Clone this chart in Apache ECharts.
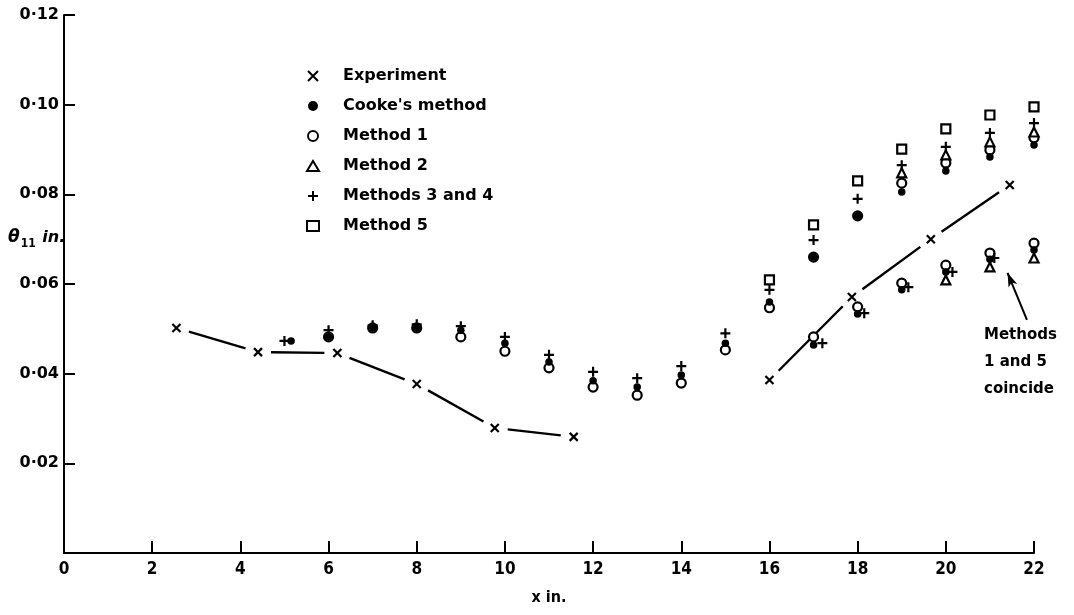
<!DOCTYPE html>
<html>
<head>
<meta charset="utf-8">
<script src="https://cdn.jsdelivr.net/npm/echarts@6/dist/echarts.min.js"></script>
<style>
  html, body { margin: 0; padding: 0; background: #fff; }
  #chart { width: 1074px; height: 615px; }
</style>
</head>
<body>
<div id="chart"></div>
<script>
// Momentum thickness θ11 (in.) against distance x (in.)
const xTicks = [0, 2, 4, 6, 8, 10, 12, 14, 16, 18, 20, 22];
const yTicks = [0.02, 0.04, 0.06, 0.08, 0.10, 0.12];

// Experiment, upstream and downstream runs
const experimentA = [[2.55, 0.0502], [4.4, 0.0448], [6.2, 0.0446], [8.0, 0.0377], [9.77, 0.0279], [11.56, 0.0259]];
const experimentB = [[16.0, 0.0386], [17.87, 0.0571], [19.66, 0.0700], [21.45, 0.0821]];

const cooke = [
  [5.15, 0.0473], [6, 0.0482], [7, 0.0502], [8, 0.0502], [9, 0.0497], [10, 0.0468], [11, 0.0426],
  [12, 0.0384], [13, 0.0370], [14, 0.0397], [15, 0.0468], [16, 0.0560], [17, 0.0660], [18, 0.0752],
  [19, 0.0805], [20, 0.0852], [21, 0.0883], [22, 0.0910],
  [17, 0.0464], [18, 0.0533], [19, 0.0587], [20, 0.0627], [21, 0.0655], [22, 0.0676]
];
const method1 = [
  [6, 0.0482], [7, 0.0502], [8, 0.0502], [9, 0.0482], [10, 0.0450], [11, 0.0413], [12, 0.0370],
  [13, 0.0352], [14, 0.0379], [15, 0.0453], [16, 0.0547], [17, 0.0660], [18, 0.0752], [19, 0.0825],
  [20, 0.0870], [21, 0.0899], [22, 0.0926],
  [17, 0.0482], [18, 0.0549], [19, 0.0602], [20, 0.0642], [21, 0.0669], [22, 0.0691]
];
const method2 = [
  [19, 0.0848], [20, 0.0888], [21, 0.0917], [22, 0.0939],
  [20, 0.0609], [21, 0.0638], [22, 0.0658]
];
const methods34 = [
  [5.0, 0.0473], [6, 0.0497], [7, 0.0508], [8, 0.0510], [9, 0.0506], [10, 0.0482], [11, 0.0442],
  [12, 0.0404], [13, 0.0390], [14, 0.0417], [15, 0.0490], [16, 0.0587], [17, 0.0698], [18, 0.0790],
  [19, 0.0865], [20, 0.0906], [21, 0.0937], [22, 0.0959],
  [17.2, 0.0468], [18.15, 0.0535], [19.15, 0.0593], [20.15, 0.0627], [21.1, 0.0658], [22.15, 0.0676]
];
const method5 = [
  [16, 0.0609], [17, 0.0732], [18, 0.0830], [19, 0.0901], [20, 0.0946], [21, 0.0977], [22, 0.0995]
];

const INK = '#000';
const FONT = 'DejaVu Sans';
const FONT_C = 'DejaVu Sans Condensed';

// consecutive point pairs of a run, used for the broken faired curve
function pairs(run) {
  const out = [];
  for (let i = 0; i < run.length - 1; i++) out.push([run[i][0], run[i][1], run[i + 1][0], run[i + 1][1]]);
  return out;
}
const curveSegments = pairs(experimentA).concat(pairs(experimentB));

const crossPath = 'path://M0,0L10,10M10,0L0,10';
const plusPath = 'path://M5,0L5,10M0,5L10,5';

function fmtTick(v) {
  return v.toFixed(2).replace('.', '·');
}

const chart = echarts.init(document.getElementById('chart'), null, { renderer: 'canvas' });

const openStyle = { color: '#fff', borderColor: INK, borderWidth: 2.2, opacity: 1 };
const strokeStyle = { color: 'rgba(0,0,0,0)', borderColor: INK, borderWidth: 2.2, opacity: 1 };

chart.setOption({
  animation: false,
  backgroundColor: '#fff',
  grid: { left: 64, right: 40, top: 15, bottom: 62 },
  xAxis: {
    type: 'value', min: 0, max: 22, interval: 2,
    name: 'x in.', nameLocation: 'middle', nameGap: 37,
    nameTextStyle: { color: INK, fontFamily: FONT_C, fontWeight: 'bold', fontSize: 16 },
    axisLine: { lineStyle: { color: INK, width: 2 } },
    axisTick: { inside: true, length: 12, lineStyle: { color: INK, width: 2 } },
    axisLabel: { color: INK, fontFamily: FONT_C, fontWeight: 'bold', fontSize: 17, margin: 8 },
    splitLine: { show: false }
  },
  yAxis: {
    type: 'value', min: 0, max: 0.12,
    axisLine: { show: true, lineStyle: { color: INK, width: 2 } },
    axisTick: { show: true, inside: true, length: 11, customValues: yTicks, lineStyle: { color: INK, width: 2 } },
    axisLabel: { color: INK, fontFamily: FONT, fontWeight: 'bold', fontSize: 16, margin: 5,
                 customValues: yTicks, formatter: fmtTick },
    splitLine: { show: false }
  },
  legend: {
    orient: 'vertical', left: 301, top: 63, itemGap: 14, itemWidth: 12, itemHeight: 10,
    data: ['Experiment', "Cooke's method", 'Method 1', 'Method 2', 'Methods 3 and 4', 'Method 5'],
    textStyle: { color: INK, fontFamily: FONT, fontWeight: 'bold', fontSize: 16, padding: [0, 0, 0, 19] },
    selectedMode: false
  },
  graphic: [
    {
      type: 'text', left: 8, top: 229,
      style: {
        text: '{t|θ}{s|11}{u| in.}',
        rich: {
          t: { fontFamily: FONT, fontStyle: 'italic', fontWeight: 'bold', fontSize: 17, fill: INK },
          s: { fontFamily: FONT_C, fontWeight: 'bold', fontSize: 12, fill: INK, padding: [13, 1, 0, 1] },
          u: { fontFamily: FONT, fontStyle: 'italic', fontWeight: 'bold', fontSize: 16, fill: INK }
        }
      }
    },
    {
      type: 'text', left: 984, top: 322,
      style: {
        text: 'Methods\n1 and 5\ncoincide',
        fontFamily: FONT, fontWeight: 'bold', fontSize: 15, lineHeight: 27, fill: INK
      }
    }
  ],
  series: [
    {
      name: 'faired curve', type: 'custom', silent: true,
      data: curveSegments,
      encode: { x: [0, 2], y: [1, 3] },
      renderItem: function (params, api) {
        const a = api.coord([api.value(0), api.value(1)]);
        const b = api.coord([api.value(2), api.value(3)]);
        const dx = b[0] - a[0], dy = b[1] - a[1];
        const len = Math.sqrt(dx * dx + dy * dy);
        const gap = 13;
        const ux = dx / len, uy = dy / len;
        return {
          type: 'line',
          shape: { x1: a[0] + ux * gap, y1: a[1] + uy * gap, x2: b[0] - ux * gap, y2: b[1] - uy * gap },
          style: { stroke: INK, lineWidth: 2.4 }
        };
      },
      z: 1
    },
    {
      name: 'Experiment', type: 'scatter', symbol: crossPath, symbolSize: 8,
      data: experimentA.concat(experimentB),
      itemStyle: strokeStyle, z: 3
    },
    {
      name: 'Method 1', type: 'scatter', symbol: 'circle', symbolSize: 9,
      data: method1, itemStyle: openStyle, z: 3
    },
    {
      name: "Cooke's method", type: 'scatter', symbol: 'circle', symbolSize: 7.5,
      data: cooke, itemStyle: { color: INK, opacity: 1 }, z: 4
    },
    {
      name: 'Method 2', type: 'scatter', symbol: 'triangle', symbolSize: 9,
      data: method2, itemStyle: openStyle, z: 3
    },
    {
      name: 'Methods 3 and 4', type: 'scatter', symbol: plusPath, symbolSize: 10,
      data: methods34,
      itemStyle: strokeStyle, z: 5,
      markLine: {
        silent: true, symbol: ['none', 'arrow'], symbolSize: [7, 14],
        lineStyle: { color: INK, width: 2, type: 'solid', opacity: 1 },
        label: { show: false },
        data: [[{ coord: [21.84, 0.052] }, { coord: [21.4, 0.0625] }]]
      }
    },
    {
      name: 'Method 5', type: 'scatter', symbol: 'rect', symbolSize: 9,
      data: method5, itemStyle: openStyle, z: 3
    }
  ]
});
</script>
</body>
</html>
